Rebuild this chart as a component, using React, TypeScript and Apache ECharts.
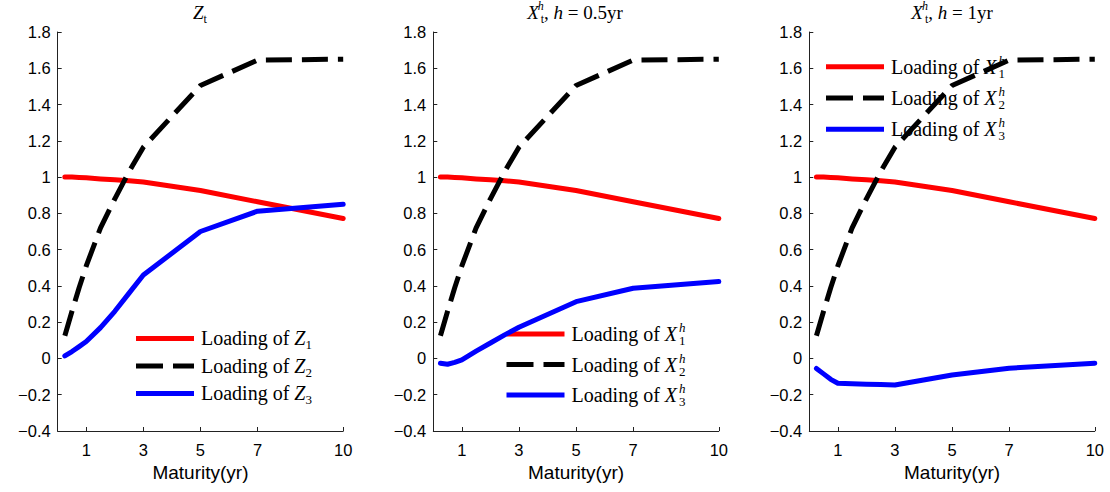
import React, { useEffect, useRef } from "react";
import * as echarts from "echarts";

// ---- data ----
const maturities = [0.25, 0.5, 0.75, 1, 1.5, 2, 2.5, 3, 5, 7, 10];
const xTickValues = [1, 3, 5, 7, 10];
const yMin = -0.4;
const yMax = 1.8;
const yStep = 0.2;

const loading1 = [1.0, 1.0, 0.998, 0.996, 0.99, 0.985, 0.98, 0.973, 0.926, 0.864, 0.772];
const loading2 = [0.125, 0.26, 0.39, 0.51, 0.72, 0.88, 1.03, 1.165, 1.505, 1.645, 1.65];
const loadingZ3 = [0.014, 0.038, 0.065, 0.093, 0.17, 0.26, 0.36, 0.46, 0.7, 0.812, 0.85];
const loadingX3Half = [-0.026, -0.032, -0.022, -0.008, 0.04, 0.085, 0.13, 0.172, 0.313, 0.387, 0.424];
const loadingX3One = [-0.055, -0.085, -0.115, -0.137, -0.14, -0.142, -0.144, -0.146, -0.091, -0.054, -0.026];

const panelTitles = [
  "{i|Z}{sub|t}",
  "{i|X}{sup|h}{sub|t}{r|, }{i|h}{r| = 0.5yr}",
  "{i|X}{sup|h}{sub|t}{r|, }{i|h}{r| = 1yr}",
];

const panels = [
  {
    names: ["Loading of Z1", "Loading of Z2", "Loading of Z3"],
    labels: [
      "{r|Loading of }{i|Z}{sub|1}",
      "{r|Loading of }{i|Z}{sub|2}",
      "{r|Loading of }{i|Z}{sub|3}",
    ],
    values: [loading1, loading2, loadingZ3],
  },
  {
    names: ["Loading of X1 (h=0.5yr)", "Loading of X2 (h=0.5yr)", "Loading of X3 (h=0.5yr)"],
    labels: [
      "{r|Loading of }{i|X}{sup|h}{sub|1}",
      "{r|Loading of }{i|X}{sup|h}{sub|2}",
      "{r|Loading of }{i|X}{sup|h}{sub|3}",
    ],
    values: [loading1, loading2, loadingX3Half],
  },
  {
    names: ["Loading of X1 (h=1yr)", "Loading of X2 (h=1yr)", "Loading of X3 (h=1yr)"],
    labels: [
      "{r|Loading of }{i|X}{sup|h}{sub|1}",
      "{r|Loading of }{i|X}{sup|h}{sub|2}",
      "{r|Loading of }{i|X}{sup|h}{sub|3}",
    ],
    values: [loading1, loading2, loadingX3One],
  },
];

// ---- styling / layout ----
const SERIF = "'Liberation Serif', 'DejaVu Serif', serif";
const SANS = "'Liberation Sans', Arial, sans-serif";
const seriesColors = ["#ff0000", "#000000", "#0000ff"];
const seriesDash: any[] = ["solid", [26, 10], "solid"];
const legendIcons = [
  "path://M0,0H58V5H0Z",
  "path://M0,0H27V5H0ZM37,0H58V5H37Z",
  "path://M0,0H58V5H0Z",
];

const gridLefts = [57.7, 433.3, 809.3];
const gridTop = 32;
const gridWidth = 285.5;
const gridHeight = 399;
const legendPos = [
  { left: 136, top: 328.4, gap: 4.5 },
  { left: 506.5, top: 321, gap: 4.5 },
  { left: 826, top: 53.7, gap: 5.3 },
];

const richStyles = (size: number) => {
  const small = Math.round(size * 0.65);
  const main = Math.round(size * 1.3);
  return {
    r: { fontFamily: SERIF, fontSize: size, color: "#000", lineHeight: main },
    i: { fontFamily: SERIF, fontSize: size, fontStyle: "italic", color: "#000", lineHeight: main },
    sub: {
      fontFamily: SERIF,
      fontSize: small,
      color: "#000",
      verticalAlign: "bottom",
      lineHeight: Math.round(size * 0.5),
    },
    sup: {
      fontFamily: SERIF,
      fontSize: small,
      fontStyle: "italic",
      color: "#000",
      verticalAlign: "top",
      lineHeight: Math.round(size * 0.8),
      width: 0,
      padding: [0, 0, 0, 2],
    },
  };
};

function fmtY(v: number) {
  const r = Math.round(v * 10) / 10;
  return String(r).replace("-", "\u2212");
}

export default function App() {
  const ref = useRef<HTMLDivElement>(null);
  useEffect(() => {
    document.body.style.margin = "0";
    if (!ref.current) return;
    const chart = echarts.init(ref.current, null, { renderer: "svg" });

    const grid = gridLefts.map((left) => ({ left, top: gridTop, width: gridWidth, height: gridHeight }));
    const xAxis = gridLefts.map((_, gi) => ({
      type: "value",
      gridIndex: gi,
      min: 0,
      max: 10,
      name: "Maturity(yr)",
      nameLocation: "middle",
      nameGap: 29,
      nameTextStyle: { fontFamily: SANS, fontSize: 19, color: "#000" },
      axisLine: { show: true, onZero: false, lineStyle: { color: "#222", width: 1 } },
      axisTick: { show: true, inside: true, length: 4, customValues: xTickValues, lineStyle: { color: "#222" } },
      axisLabel: { customValues: xTickValues, fontFamily: SANS, fontSize: 16.5, color: "#000", margin: 10 },
      splitLine: { show: false },
    }));
    const yAxis = gridLefts.map((_, gi) => ({
      type: "value",
      gridIndex: gi,
      min: yMin,
      max: yMax,
      interval: yStep,
      axisLine: { show: true, onZero: false, lineStyle: { color: "#222", width: 1 } },
      axisTick: { show: true, inside: true, length: 4, lineStyle: { color: "#222" } },
      axisLabel: { formatter: fmtY, fontFamily: SANS, fontSize: 16.5, color: "#000", margin: 7 },
      splitLine: { show: false },
    }));

    const series: any[] = [];
    panels.forEach((p, gi) => {
      p.values.forEach((vals, k) => {
        series.push({
          type: "line",
          name: p.names[k],
          xAxisIndex: gi,
          yAxisIndex: gi,
          data: maturities.map((m, j) => [m, vals[j]]),
          symbol: "none",
          smooth: false,
          lineStyle: {
            color: seriesColors[k],
            width: 5,
            type: seriesDash[k],
            cap: k === 1 ? "butt" : "round",
            join: "round",
          },
          itemStyle: { color: seriesColors[k] },
          z: 2 + k,
        });
      });
    });

    const legend = panels.map((p, gi) => ({
      data: p.names.map((n, k) => ({ name: n, icon: legendIcons[k], itemStyle: { color: seriesColors[k] } })),
      orient: "vertical",
      left: legendPos[gi].left,
      top: legendPos[gi].top,
      itemWidth: 58,
      itemHeight: 5,
      itemGap: legendPos[gi].gap,
      itemTextGap: 5,
      padding: 0,
      selectedMode: false,
      formatter: (name: string) => p.labels[p.names.indexOf(name)],
      textStyle: { fontFamily: SERIF, fontSize: 20, color: "#000", rich: richStyles(20), padding: [0, 0, 0, 2] },
    }));

    const titleCenters = [200, 575, 952];
    const graphic = panelTitles.map((t, gi) => ({
      type: "text",
      x: titleCenters[gi],
      y: 12,
      style: {
        text: t,
        align: "center",
        verticalAlign: "middle",
        rich: richStyles(19),
        fill: "#000",
      },
    }));

    chart.setOption({
      animation: false,
      backgroundColor: "#fff",
      grid,
      xAxis,
      yAxis,
      legend,
      series,
      graphic,
    } as any);

    return () => chart.dispose();
  }, []);
  return <div ref={ref} style={{ width: 1110, height: 492 }} />;
}
